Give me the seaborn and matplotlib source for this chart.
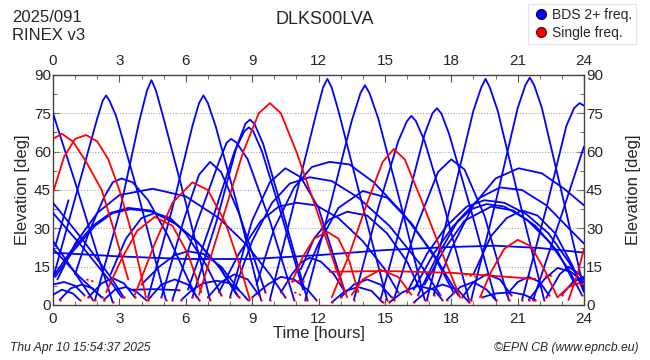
import pandas as pd
import matplotlib
matplotlib.use("Agg")
import matplotlib.pyplot as plt
import seaborn as sns
import numpy as np
from matplotlib.lines import Line2D
from matplotlib.ticker import MultipleLocator

# Elevation arcs per satellite pass: (hour, elevation deg)

# BDS satellites tracked on 2+ frequencies - high MEO passes
bds_meo = [
    [(0, 75), (1.0, 48), (2.0, 20), (2.7, 1)],
    [(0.05, 12), (1.2, 48), (2.0, 73), (2.25, 80), (2.4, 82), (2.55, 80), (2.85, 74), (3.8, 45), (5.1, 2)],
    [(1.9, 2), (3.0, 36), (3.9, 72), (4.25, 84), (4.45, 88), (4.65, 84), (5.0, 73), (6.0, 40), (7.1, 2)],
    [(4.3, 3), (5.4, 38), (6.3, 70), (6.6, 79), (6.8, 82), (7.0, 79), (7.35, 70), (8.3, 40), (9.4, 2)],
    [(6.3, 3), (7.4, 33), (8.3, 62), (8.7, 71), (8.9, 72.5), (9.1, 71), (9.5, 63), (10.4, 36), (11.5, 2)],
    [(6.1, 6), (7.3, 36), (8.2, 60), (8.65, 68), (8.85, 69.5), (9.05, 68), (9.45, 60), (10.3, 36), (11.3, 6)],
    [(5.4, 2), (6.5, 32), (7.5, 56), (7.85, 63.5), (8.05, 65), (8.3, 63.5), (8.8, 57), (9.8, 33), (10.9, 2)],
    [(4.9, 3), (5.9, 33), (6.6, 51), (7.1, 56), (7.6, 52), (8.4, 36), (9.6, 5)],
    [(8.0, 3), (9.0, 33), (9.8, 48), (10.5, 53.5), (11.2, 50), (12.0, 38), (13.2, 5)],
    [(9.8, 2), (10.9, 40), (11.9, 75), (12.2, 85), (12.4, 88.5), (12.6, 85), (12.9, 76), (13.9, 42), (15.1, 2)],
    [(11.4, 2), (12.5, 38), (13.5, 72), (13.9, 83), (14.1, 86), (14.3, 83), (14.7, 73), (15.7, 40), (16.8, 2)],
    [(13.6, 2), (14.7, 38), (15.6, 64), (16.0, 72), (16.2, 74), (16.4, 72), (16.8, 64), (17.7, 38), (18.8, 2)],
    [(14.8, 2), (15.9, 37), (16.8, 67), (17.15, 75), (17.35, 77), (17.55, 75), (17.9, 67), (18.9, 37), (20.0, 2)],
    [(15.4, 2), (16.4, 30), (17.4, 52), (18.0, 57), (18.6, 53), (19.5, 35), (20.6, 2)],
    [(16.9, 2), (18.0, 40), (19.0, 76), (19.35, 85), (19.55, 88.5), (19.75, 85), (20.1, 76), (21.1, 40), (22.2, 2)],
    [(18.9, 2), (20.0, 40), (21.0, 77), (21.35, 86), (21.55, 89), (21.75, 86), (22.1, 77), (23.1, 40), (24.0, 6)],
    [(21.2, 2), (22.3, 38), (23.2, 70), (23.55, 77), (23.8, 79), (24.0, 78)],
    [(21.7, 2), (22.9, 33), (24.0, 62)],
]

# BDS 2+ freq - broad medium arcs
bds_broad = [
    [(0.2, 10), (1.0, 24), (2.0, 36), (3.0, 43), (4.5, 45.5), (6.0, 42.5), (7.5, 34), (8.7, 24), (9.8, 12), (10.5, 3)],
    [(0.0, 11), (0.8, 21), (1.8, 31), (2.6, 36), (3.4, 38), (4.4, 37), (5.5, 32), (6.5, 25), (7.5, 15), (8.3, 4)],
    [(0.1, 11), (0.9, 21), (1.9, 31), (2.7, 36), (3.5, 37.5), (4.5, 36.5), (5.6, 31.5), (6.6, 24), (7.6, 14), (8.4, 3)],
    [(1.0, 12), (1.6, 28), (2.3, 42), (2.7, 48), (3.1, 49.5), (3.6, 48), (4.3, 41), (5.2, 27), (6.1, 10), (6.5, 3)],
    [(2.6, 12), (3.3, 26), (4.0, 34), (4.6, 36), (5.3, 34), (6.0, 28), (6.9, 16), (7.6, 4)],
    [(0, 40), (1.3, 26), (2.6, 11), (3.2, 3)],
    [(0, 36), (1.4, 22), (2.7, 8), (3.1, 3)],
    [(0, 25), (0.8, 15), (1.5, 6), (1.8, 2)],
    [(0, 22), (1.2, 11), (2.2, 3)],
    [(0.1, 23), (0.4, 32), (0.7, 41)],
    [(4.0, 8), (4.8, 15), (5.5, 19.5), (6.1, 21), (6.8, 20), (7.6, 15), (8.4, 6)],
    [(7.5, 5), (8.4, 20), (9.4, 33), (10.2, 38.5), (11.0, 40), (11.9, 39), (12.9, 34), (14.0, 25), (15.0, 14), (15.6, 5)],
    [(8.2, 6), (9.0, 25), (9.9, 40), (10.7, 47.5), (11.6, 50), (12.6, 48.5), (13.8, 42), (15.2, 31), (16.6, 16), (17.5, 4)],
    [(9.2, 8), (10.0, 30), (10.9, 46), (11.7, 54), (12.5, 56), (13.4, 55), (14.5, 48), (15.8, 36), (17.2, 20), (18.3, 4)],
    [(11.2, 14), (11.8, 26), (12.5, 33.5), (13.3, 36.5), (14.2, 35), (15.1, 28), (16.0, 17), (16.6, 6)],
    [(11.2, 8), (12.0, 24), (12.9, 38), (14.0, 44.6), (15.1, 42), (16.2, 32), (17.3, 18), (18.1, 5)],
    [(17.2, 4), (18.0, 22), (19.0, 39), (20.0, 49.5), (21.05, 53.5), (22.1, 51.5), (23.1, 45.5), (24.0, 39)],
    [(16.5, 4), (17.3, 18), (18.3, 33), (19.3, 42), (20.2, 46), (21.2, 45), (22.3, 39), (23.2, 31), (24.0, 24)],
    [(16.0, 5), (16.9, 20), (17.8, 31), (18.7, 38.5), (19.5, 41), (20.4, 40), (21.4, 35.5), (22.4, 28), (23.3, 17), (24.0, 7)],
    [(16.3, 6), (17.2, 20), (18.1, 31), (18.9, 37.5), (19.6, 39.5), (20.4, 38.5), (21.4, 33.5), (22.4, 25), (23.3, 14), (23.9, 4)],
    [(16.8, 8), (17.7, 22), (18.6, 33), (19.8, 38.5), (20.8, 37), (21.8, 31), (22.8, 21), (23.6, 8)],
    [(19.0, 12), (19.8, 27), (20.5, 34), (21.2, 37), (21.9, 35), (22.7, 28), (23.5, 15), (24.0, 5)],
]

# BDS 2+ freq - geostationary-like track and low arcs
bds_low = [
    [(0, 20.5), (3, 19), (6, 18), (9, 18), (12, 19.5), (15, 21.5), (18, 22.7), (20, 23.2), (22, 22.3), (24, 20.5)],
    [(0.3, 2), (0.8, 6.5), (1.3, 8), (1.8, 6.5), (2.2, 3)],
    [(0.0, 8), (0.5, 9), (1.0, 7.5), (1.4, 4)],
    [(0.0, 4), (0.4, 6), (0.9, 4.5), (1.2, 2)],
    [(1.6, 3), (2.2, 8.5), (2.7, 10.5), (3.2, 8.5), (3.7, 3)],
    [(2.3, 2), (2.8, 6), (3.3, 7), (3.8, 5), (4.2, 2)],
    [(3.6, 6), (4.6, 6.2), (5.7, 5.8)],
    [(4.3, 2), (4.9, 8), (5.5, 10), (6.1, 8), (6.6, 2)],
    [(5.8, 2), (6.3, 6), (6.8, 8.5), (7.4, 9.5), (8.0, 8.5), (8.5, 5), (8.8, 2)],
    [(7.0, 3), (7.6, 9), (8.2, 12), (8.8, 10), (9.3, 4)],
    [(9.0, 3), (9.7, 8), (10.3, 11), (10.9, 10), (11.5, 6), (11.9, 2)],
    [(10.3, 5), (10.8, 12), (11.2, 16.5), (11.6, 18.5), (12.1, 17), (12.7, 12), (13.2, 5)],
    [(12.6, 1), (13.2, 5.5), (13.8, 7), (14.4, 5.5), (14.9, 1)],
    [(13.0, 3), (13.6, 8), (14.2, 10), (14.8, 8), (15.3, 3)],
    [(15.2, 1), (15.8, 5), (16.5, 7.5), (17.2, 6), (17.6, 2)],
    [(16.3, 1), (17.0, 6), (17.6, 8), (18.3, 6), (18.8, 1)],
    [(17.8, 2), (18.4, 7), (19.0, 9), (19.6, 6), (20.0, 2)],
    [(18.5, 3), (19.0, 9), (19.6, 12), (20.2, 10), (20.7, 4)],
    [(19.4, 3), (20.0, 4.5), (20.7, 5), (21.3, 4), (21.8, 2)],
    [(20.5, 4), (21.0, 9), (21.5, 11), (22.0, 9), (22.4, 4)],
    [(21.5, 2), (22.2, 10), (22.8, 14.5), (23.4, 13), (24.0, 9)],
    [(22.3, 3), (22.9, 12), (23.3, 15), (23.8, 12), (24.0, 10)],
    [(23.0, 4), (23.5, 9), (24.0, 11)],
]

# satellites with a single frequency only
single_freq = [
    [(0, 65), (0.4, 67), (0.9, 64), (1.5, 56), (2.2, 45), (2.8, 28), (3.4, 10)],
    [(0, 44), (0.5, 58), (1.0, 65), (1.5, 66.5), (2.0, 64), (2.5, 57), (3.0, 45), (3.6, 27), (4.2, 3)],
    [(2.4, 5), (3.1, 18), (3.8, 29), (4.6, 34.5), (5.4, 31), (6.1, 20), (6.7, 5)],
    [(3.7, 4), (4.6, 24), (5.4, 40), (6.3, 48), (7.0, 45), (7.8, 32), (8.5, 14), (8.9, 2)],
    [(6.6, 4), (7.6, 32), (8.6, 60), (9.3, 75), (9.8, 79), (10.3, 75), (11.0, 60), (12.0, 35), (12.8, 14), (13.3, 3)],
    [(10.8, 9), (11.3, 19), (11.8, 26), (12.4, 28.6), (12.9, 26), (13.4, 17), (13.8, 5)],
    [(12.6, 3), (13.4, 20), (14.2, 40), (14.9, 56), (15.4, 61), (15.9, 57), (16.7, 40), (17.6, 20), (18.4, 3)],
    [(13.5, 4), (14.0, 10), (14.8, 13.8), (15.6, 11), (16.2, 4)],
    [(12.5, 13), (15.0, 13.3), (18.0, 12.6), (21.8, 10.2)],
    [(19.3, 3), (19.8, 13), (20.4, 22), (21.0, 25.5), (21.6, 23), (22.2, 14), (22.8, 3)],
    [(23.3, 2), (23.7, 12), (24.0, 22)],
    [(22.8, 3), (23.3, 7), (23.7, 8.5), (24.0, 8)],
]

# short single-freq fragments (dotted)
single_gaps = [
    [(10.6, 9), (11.0, 9.5), (11.5, 9)],
    [(10.9, 5), (11.3, 3.5)],
    [(18.6, 12), (19.1, 11)],
    [(22.0, 11), (22.6, 11.5)],
    [(1.5, 10), (1.9, 9)],
]

hour_ticks = list(range(0, 25, 3))
elev_ticks = list(range(0, 91, 15))

rows = []
arc_id = 0
for group, label in [(bds_meo, "BDS 2+ freq."), (bds_broad, "BDS 2+ freq."),
                     (bds_low, "BDS 2+ freq."), (single_freq, "Single freq.")]:
    for arc in group:
        for h, e in arc:
            rows.append({"arc": arc_id, "hour": h, "elev": e, "kind": label})
        arc_id += 1
df = pd.DataFrame(rows)

gap_rows = []
for i, arc in enumerate(single_gaps):
    for h, e in arc:
        gap_rows.append({"arc": i, "hour": h, "elev": e})
gaps = pd.DataFrame(gap_rows)

# red end points where BDS arcs drop to the horizon
ends = []
for group in (bds_meo, bds_broad, bds_low):
    for arc in group:
        for h, e in (arc[0], arc[-1]):
            if e < 6 and 0 < h < 24:
                ends.append({"hour": h, "elev": e})
ends = pd.DataFrame(ends)

sns.set_style("ticks")
plt.rcParams['font.family'] = ['Liberation Sans', 'DejaVu Sans']

fig = plt.figure(figsize=(6.5, 3.6), dpi=100)
ax = fig.add_axes([53/650, 55/360, 531/650, 230/360])

palette = {"BDS 2+ freq.": "#0000ff", "Single freq.": "#ff0000"}
sns.lineplot(data=df, x="hour", y="elev", units="arc", estimator=None, hue="kind",
             palette=palette, sort=False, lw=1.3, legend=False, ax=ax, zorder=3)
sns.lineplot(data=gaps, x="hour", y="elev", units="arc", estimator=None, color="#ff0000",
             sort=False, lw=1.2, ls=(0, (1.5, 1.5)), legend=False, ax=ax, zorder=3)
sns.scatterplot(data=ends, x="hour", y="elev", color="#ff0000", s=3, linewidth=0,
                ax=ax, zorder=4, legend=False)

ax.set_xlim(0, 24)
ax.set_ylim(0, 90)
ax.set_xticks(hour_ticks)
ax.set_yticks(elev_ticks)
ax.xaxis.set_minor_locator(MultipleLocator(1))
ax.yaxis.set_minor_locator(MultipleLocator(7.5))
ax.tick_params(which="both", direction="in", top=True, right=True, labeltop=True,
               labelright=True, labelsize=11, color="#555555")
ax.tick_params(axis="y", pad=1.5)
ax.tick_params(axis="x", pad=5)
ax.tick_params(axis="x", which="major", labeltop=True)
ax.xaxis.set_tick_params(which="major", pad=5)
ax.tick_params(which="major", length=5)
ax.tick_params(which="minor", length=3)
for lbl in ax.xaxis.get_ticklabels(which="major"):
    pass
for y in elev_ticks[1:-1]:
    ax.axhline(y, color="#aaaaaa", lw=0.8, ls=(0, (1, 1.5)), zorder=1)
for s in ax.spines.values():
    s.set_color("#444444")
    s.set_linewidth(1.0)

ax.set_xlabel("Time [hours]", fontsize=12, labelpad=0)
ax.set_ylabel("Elevation [deg]", fontsize=12, labelpad=3)
sec = ax.secondary_yaxis("right")
sec.set_yticks(elev_ticks)
sec.tick_params(labelright=False, length=0)
sec.set_ylabel("Elevation [deg]", fontsize=12, labelpad=30)
sec.spines["right"].set_visible(False)

fig.text(12/650, 1 - 18/360, "2025/091", fontsize=12, va="center")
fig.text(12/650, 1 - 35/360, "RINEX v3", fontsize=12, va="center")
fig.text(325/650, 1 - 20/360, "DLKS00LVA", fontsize=13, ha="center", va="center")
fig.text(10/650, 1 - 348/360, "Thu Apr 10 15:54:37 2025", fontsize=8.7, style="italic", va="center")
fig.text(638/650, 1 - 348/360, "\u00a9EPN CB (www.epncb.eu)", fontsize=8.7, style="italic",
         ha="right", va="center")

handles = [Line2D([], [], ls="", marker="o", ms=7, color="#0000ff", mec="#000080", label="BDS 2+ freq."),
           Line2D([], [], ls="", marker="o", ms=7, color="#ff0000", mec="#800000", label="Single freq.")]
leg = fig.legend(handles=handles, loc="upper right", bbox_to_anchor=(636/650, 1 - 4/360),
                 fontsize=10, frameon=True, fancybox=False, handletextpad=0.2,
                 borderpad=0.3, labelspacing=0.25, handlelength=1.2, borderaxespad=0)
leg.get_frame().set_edgecolor("#dddddd")
leg.get_frame().set_linewidth(0.8)

fig.savefig("out.png", dpi=100)
